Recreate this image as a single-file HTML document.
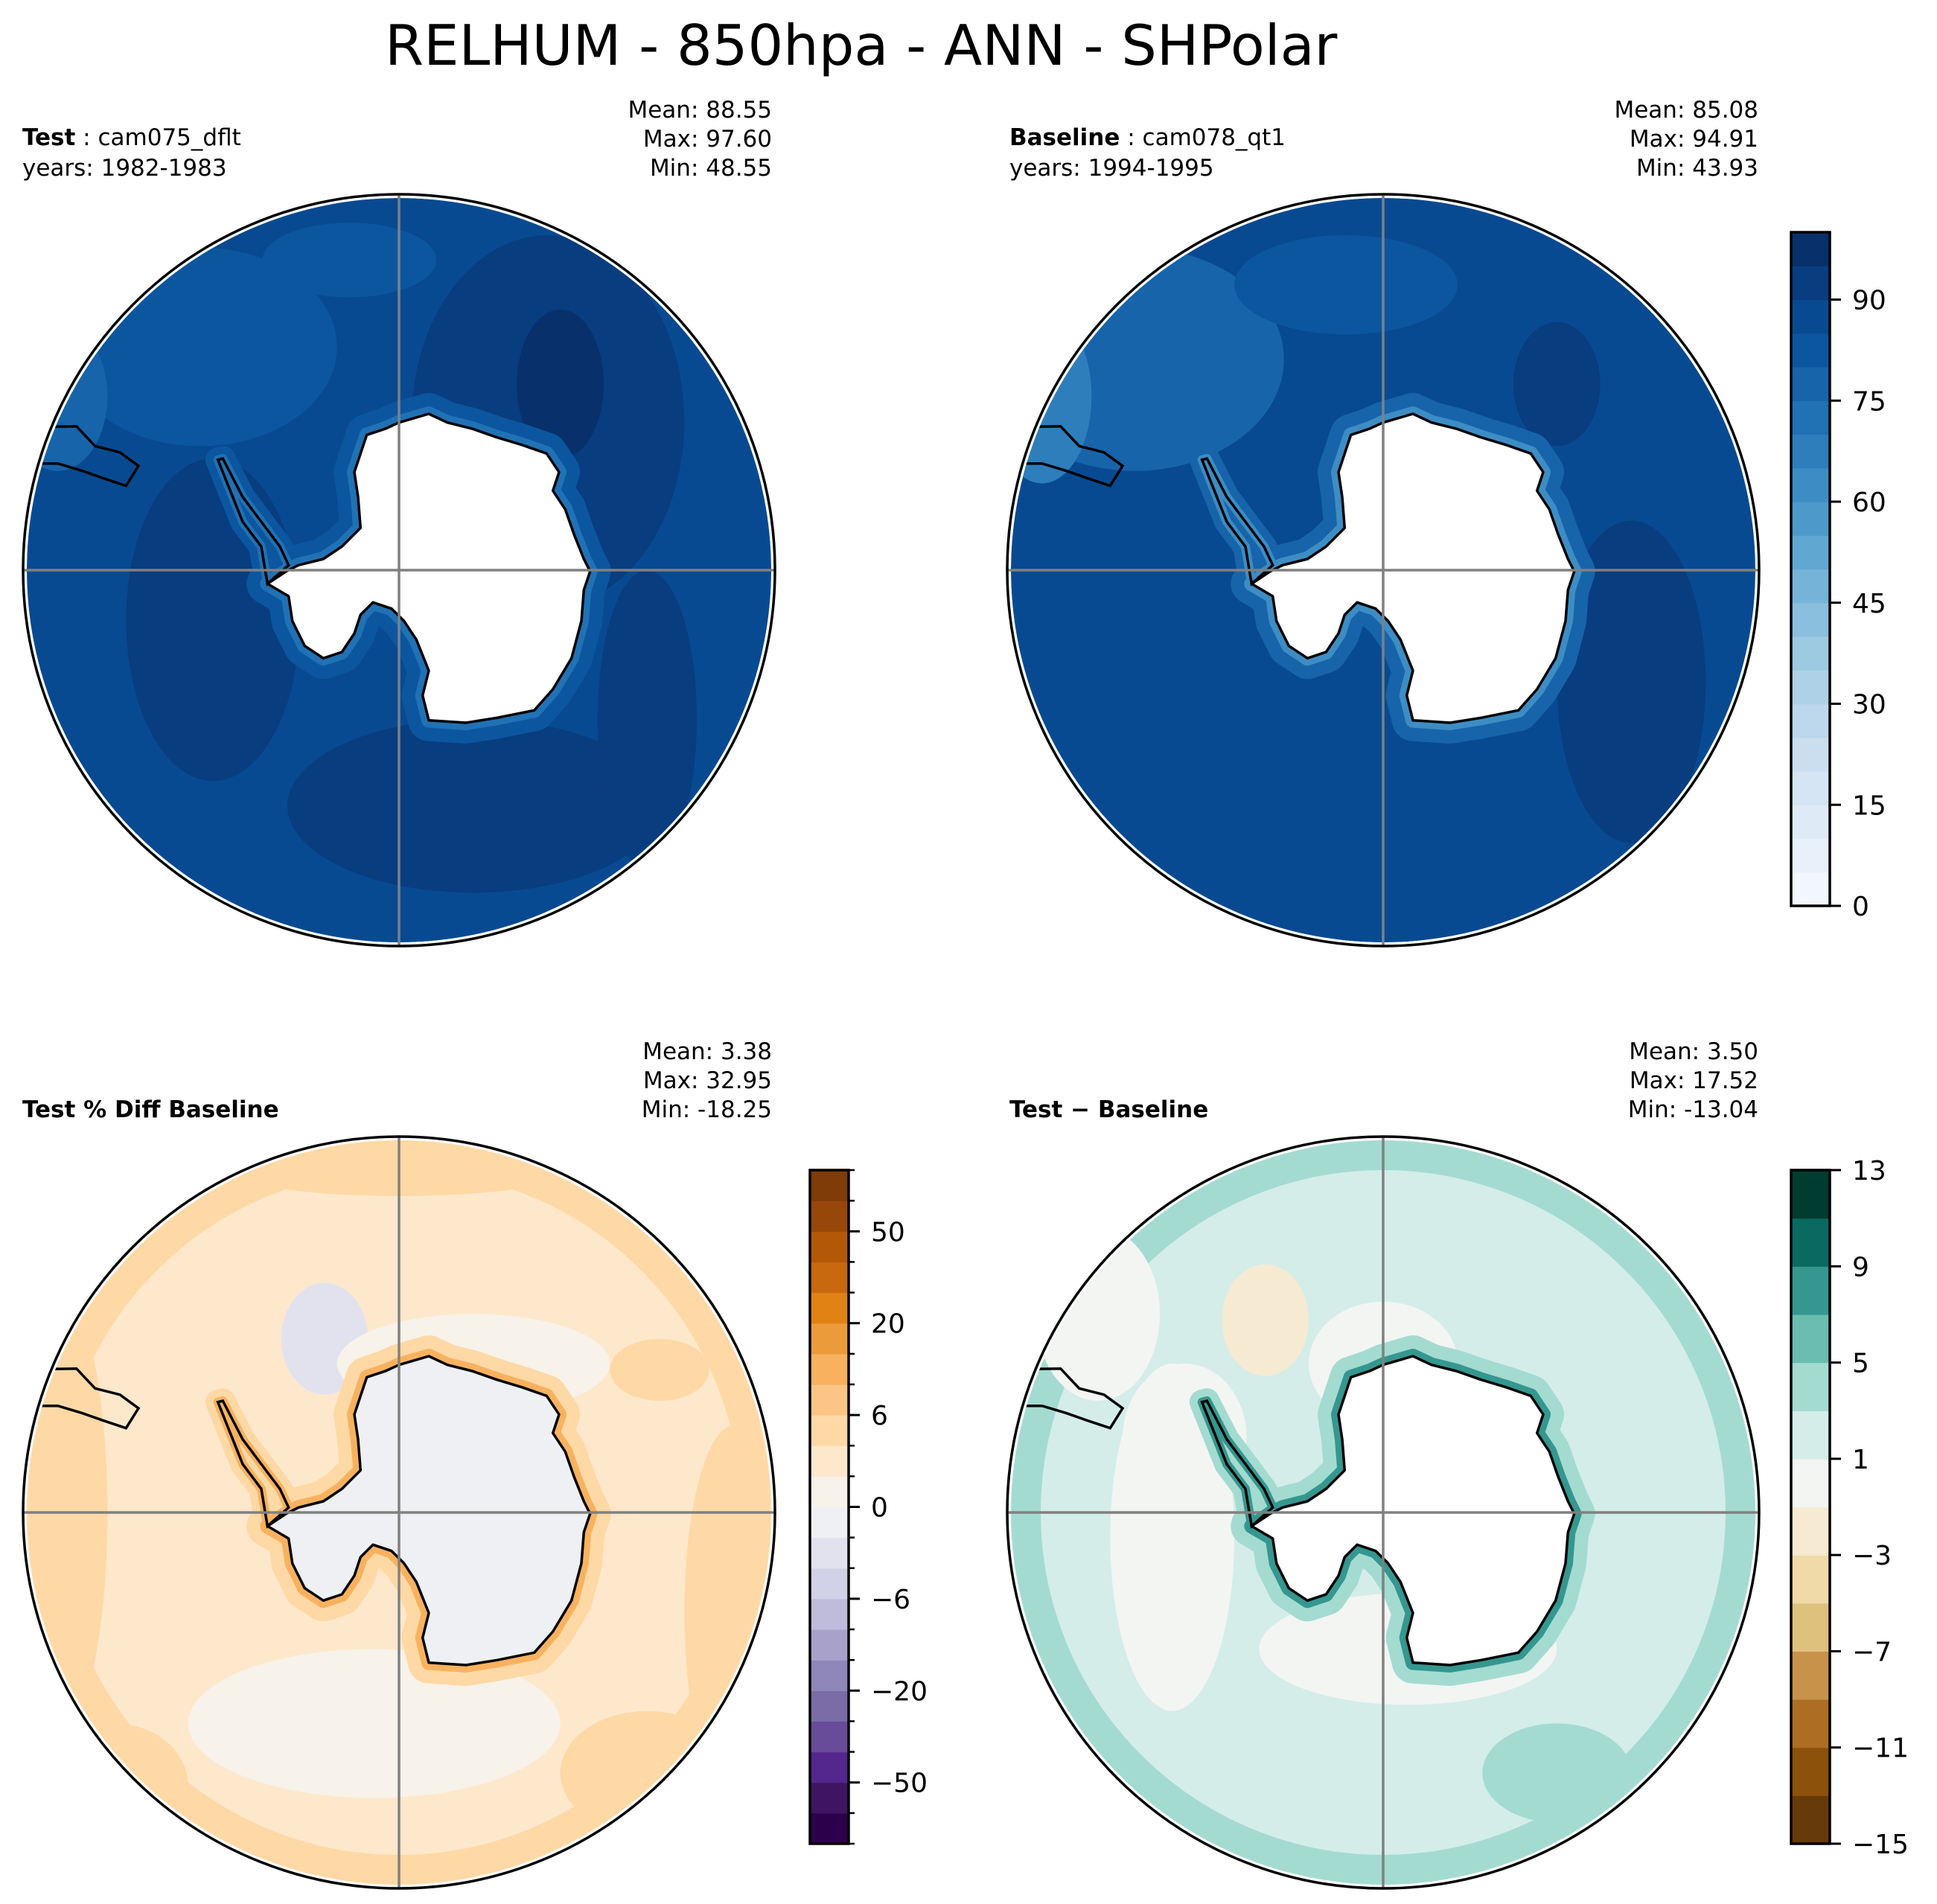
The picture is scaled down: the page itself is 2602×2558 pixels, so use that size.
<!DOCTYPE html>
<html><head><meta charset="utf-8"><style>
html,body{margin:0;padding:0;background:#fff}
svg{display:block}
text{font-family:"DejaVu Sans","Liberation Sans",sans-serif}
</style></head><body>
<svg id="fig" width="2602" height="2558" viewBox="0 0 2602 2558" xmlns="http://www.w3.org/2000/svg">
<text x="517" y="87" font-size="75">RELHUM - 850hpa - ANN - SHPolar</text>

<g font-size="31">
<text x="30" y="195"><tspan font-weight="bold">Test</tspan> : cam075_dflt</text>
<text x="30" y="236">years: 1982-1983</text>
<text x="1037" y="158" text-anchor="end">Mean: 88.55</text>
<text x="1037" y="197" text-anchor="end">Max: 97.60</text>
<text x="1037" y="236" text-anchor="end">Min: 48.55</text>
</g>
<g font-size="31">
<text x="1356" y="195"><tspan font-weight="bold">Baseline</tspan> : cam078_qt1</text>
<text x="1356" y="236">years: 1994-1995</text>
<text x="2362" y="158" text-anchor="end">Mean: 85.08</text>
<text x="2362" y="197" text-anchor="end">Max: 94.91</text>
<text x="2362" y="236" text-anchor="end">Min: 43.93</text>
</g>
<g font-size="31">
<text x="30" y="1501" font-weight="bold">Test % Diff Baseline</text>
<text x="1037" y="1423" text-anchor="end">Mean:  3.38</text>
<text x="1037" y="1462" text-anchor="end">Max: 32.95</text>
<text x="1037" y="1501" text-anchor="end">Min: -18.25</text>
</g>
<g font-size="31">
<text x="1356" y="1501" font-weight="bold">Test − Baseline</text>
<text x="2362" y="1423" text-anchor="end">Mean:  3.50</text>
<text x="2362" y="1462" text-anchor="end">Max: 17.52</text>
<text x="2362" y="1501" text-anchor="end">Min: -13.04</text>
</g>
<defs id="defs"></defs>
<g id="maps"></g>
<g id="cbars"></g>
</svg>
<script>
// ---- colorbar data ----
const relhumLevels = [0,5,10,15,20,25,30,35,40,45,50,55,60,65,70,75,80,85,90,95,100];
const relhumColors = ['#f2f7fd','#e8f1fa','#deebf7','#d5e5f4','#cadef0','#bdd7ec','#aed1e7','#9ecae1','#8abfdd','#75b4d8','#60a7d2','#4d99ca','#3d8dc4','#2e7ebc','#2171b5','#1764ab','#0c56a0','#084a91','#083d7f','#08306b'];
const relhumTicks = [0,15,30,45,60,75,90];
const pctLevels = [-100,-75,-50,-40,-30,-20,-15,-10,-6,-4,-2,0,2,4,6,10,15,20,30,40,50,75,100];
const pctColors = ['#2d004b','#3f1461','#54278f','#684b99','#7b6ca8','#8f87ba','#a8a2cb','#bebbdb','#d1d1e7','#e2e2ef','#eef0f4','#f7f2ea','#fee8cc','#fed9a6','#fdc585','#f8b25f','#ec9b3b','#e08214','#c8690f','#b35806','#98470a','#7f3b08'];
const pctTicks = [-50,-20,-6,0,6,20,50];
const diffLevels = [-15,-13,-11,-9,-7,-5,-3,-1,1,3,5,7,9,11,13];
const diffColors = ['#663a09','#8c510a','#ad6e23','#c7924a','#dfc17e','#efdaa8','#f6ead3','#f3f5f3','#d4ede9','#a4dbd1','#6abdb0','#35978f','#0a6a62','#003c30'];
const diffTicks = [-15,-11,-7,-3,1,5,9,13];

// ---- field blobs (relative map units, radius = 303) ----
const p1X=[120,130,60,-150,-160,-275,200,-40];
const p1Y=[-120,-150,190,40,-180,-140,120,-250];
const p1Rx=[110,35,150,70,110,40,40,70];
const p1Ry=[150,60,70,130,80,60,120,30];
const p1Val=[92,97,92,92,82,77,92,82];
const p2X=[130,140,30,-170,-200,-275,-30,200];
const p2Y=[-40,-150,190,110,-170,-140,-230,90];
const p2Rx=[110,35,180,80,120,40,90,60];
const p2Ry=[160,50,80,120,90,70,40,130];
const p2Val=[87,92,87,87,78,68,82,92];
const p3X=[-275,270,0,-60,200,-230,60,210,-20];
const p3Y=[0,80,-285,-140,210,220,-120,-115,170];
const p3Rx=[40,40,160,35,70,60,110,40,150];
const p3Ry=[180,150,30,45,50,50,40,25,60];
const p3Val=[5,5,5,-3,5,5,1,5,1];
const p4X=[-170,0,-95,-230,20,-160,140];
const p4Y=[20,-120,-155,-160,110,-60,210];
const p4Rx=[50,60,35,50,120,50,60];
const p4Ry=[140,50,45,70,45,60,40];
const p4Val=[0,0,-2,0,0,0,4];

// Antarctica shape (relative map units)
const antX=[0,24,39,59,79,99,119,129,124,134,141,149,154,149,147,139,124,109,79,54,24,19,24,14,4,-6,-21,-31,-36,-46,-61,-76,-86,-89,-106,-91,-81,-61,-46,-31,-33,-36,-26,-11];
const antY=[-119,-126,-119,-114,-107,-101,-94,-79,-64,-49,-29,-9,1,16,41,71,96,113,119,123,121,101,81,56,41,31,26,36,51,66,71,61,41,21,11,1,-4,-9,-19,-34,-59,-79,-109,-114];
const penX=[-106,-111,-126,-136,-146,-142,-126,-111,-96,-89];
const penY=[11,-19,-39,-64,-89,-90,-59,-39,-19,-4];
const samX=[-320,-260,-245,-225,-210,-220,-238,-255,-275,-320];
const samY=[-115,-116,-100,-95,-84,-68,-74,-80,-86,-86];

const panels=[
 {name:'test',cx:536,cy:766,base:88,bx:p1X,by:p1Y,brx:p1Rx,bry:p1Ry,bv:p1Val,lv:relhumLevels,cl:relhumColors,ring:[80,70],interior:null,edge:null},
 {name:'baseline',cx:1858,cy:766,base:88,bx:p2X,by:p2Y,brx:p2Rx,bry:p2Ry,bv:p2Val,lv:relhumLevels,cl:relhumColors,ring:[77,62],interior:null,edge:null},
 {name:'pct-diff',cx:536,cy:2032,base:3,bx:p3X,by:p3Y,brx:p3Rx,bry:p3Ry,bv:p3Val,lv:pctLevels,cl:pctColors,ring:[5,12],interior:-1,edge:5},
 {name:'diff',cx:1858,cy:2032,base:2,bx:p4X,by:p4Y,brx:p4Rx,bry:p4Ry,bv:p4Val,lv:diffLevels,cl:diffColors,ring:[4,8],interior:null,edge:4}
];
const K=505/303;
const NS='http://www.w3.org/2000/svg';
function colorFor(v,lv,cl){for(let i=0;i<cl.length;i++){if(v<lv[i+1])return cl[i];}return cl[cl.length-1];}
function mk(tag,attrs,parent){const e=document.createElementNS(NS,tag);for(const k in attrs)e.setAttribute(k,attrs[k]);parent.appendChild(e);return e;}
function pts(xs,ys,p){return xs.map((x,i)=>(p.cx+x*K).toFixed(1)+','+(p.cy+ys[i]*K).toFixed(1)).join(' ');}
const defs=document.getElementById('defs');
const maps=document.getElementById('maps');
panels.forEach((p,pi)=>{
  const cp=mk('clipPath',{id:'clip'+pi},defs);
  mk('circle',{cx:p.cx,cy:p.cy,r:500},cp);
  const g=mk('g',{'clip-path':'url(#clip'+pi+')'},maps);
  
  
  const bg=mk('circle',{cx:p.cx,cy:p.cy,r:500,fill:colorFor(p.base,p.lv,p.cl)},g);
  
  
  if(p.edge!==null){
    const edge=mk('circle',{cx:p.cx,cy:p.cy,r:485,fill:'none',stroke:colorFor(p.edge,p.lv,p.cl),'stroke-width':50},g);
    
    
  }
  p.bx.forEach((x,i)=>{
    const e=mk('ellipse',{cx:p.cx+x*K,cy:p.cy+p.by[i]*K,rx:p.brx[i]*K,ry:p.bry[i]*K,fill:colorFor(p.bv[i],p.lv,p.cl)},g);
    
    
  });
  const ap=pts(antX,antY,p), pp=pts(penX,penY,p);
  [[56,p.ring[0]],[20,p.ring[1]]].forEach(([w,v])=>{
    mk('polygon',{points:ap,fill:'none',stroke:colorFor(v,p.lv,p.cl),'stroke-width':w,'stroke-linejoin':'round'},g);
    mk('polygon',{points:pp,fill:'none',stroke:colorFor(v,p.lv,p.cl),'stroke-width':w*0.6,'stroke-linejoin':'round'},g);
  });
  const fillC=p.interior===null?'#ffffff':colorFor(p.interior,p.lv,p.cl);
  const land=mk('polygon',{points:ap,fill:fillC,stroke:'#000','stroke-width':3.5,'stroke-linejoin':'round'},g);
  
  
  const pen=mk('polygon',{points:pp,fill:'none',stroke:'#000','stroke-width':3.5},g);
  
  
  const sa=mk('polyline',{points:pts(samX,samY,p),fill:'none',stroke:'#000','stroke-width':3.5},g);
  
  
  const gl=mk('path',{d:`M${p.cx} ${p.cy-505}V${p.cy+505}M${p.cx-505} ${p.cy}H${p.cx+505}`,stroke:'#808080','stroke-width':3.5,fill:'none'},maps);
  
  
  const bd=mk('circle',{cx:p.cx,cy:p.cy,r:505,fill:'none',stroke:'#000','stroke-width':3.5},maps);
  
  
});

// ---- colorbars ----
const cbars=document.getElementById('cbars');
function colorbar(name,x,y0,h,lv,cl,ticks,minor){
  const g=mk('g',{},cbars);
  
  
  const n=cl.length, w=52;
  const yAt=i=>y0+h-(i/n)*h;
  cl.forEach((c,i)=>{
    const r=mk('rect',{x:x,y:yAt(i+1),width:w,height:h/n+0.6,fill:c},g);
    
    
  });
  mk('rect',{x:x,y:y0,width:w,height:h,fill:'none',stroke:'#000','stroke-width':3.5},g);
  if(minor){lv.forEach((v,i)=>{mk('line',{x1:x+w,x2:x+w+8,y1:yAt(i),y2:yAt(i),stroke:'#000','stroke-width':2.5},g);});}
  ticks.forEach(t=>{
    const i=lv.indexOf(t); const y=yAt(i);
    mk('line',{x1:x+w,x2:x+w+15,y1:y,y2:y,stroke:'#000','stroke-width':3},g);
    const tx=mk('text',{x:x+w+30,y:y+13,'font-size':36},g);
    tx.textContent=t<0?'\u2212'+Math.abs(t):String(t);
    
    
  });
}
colorbar('relhum-colorbar',2406,312,905,relhumLevels,relhumColors,relhumTicks,false);
colorbar('pct-diff-colorbar',1088,1572,905,pctLevels,pctColors,pctTicks,true);
colorbar('diff-colorbar',2406,1572,905,diffLevels,diffColors,diffTicks,false);
</script>
</body></html>
